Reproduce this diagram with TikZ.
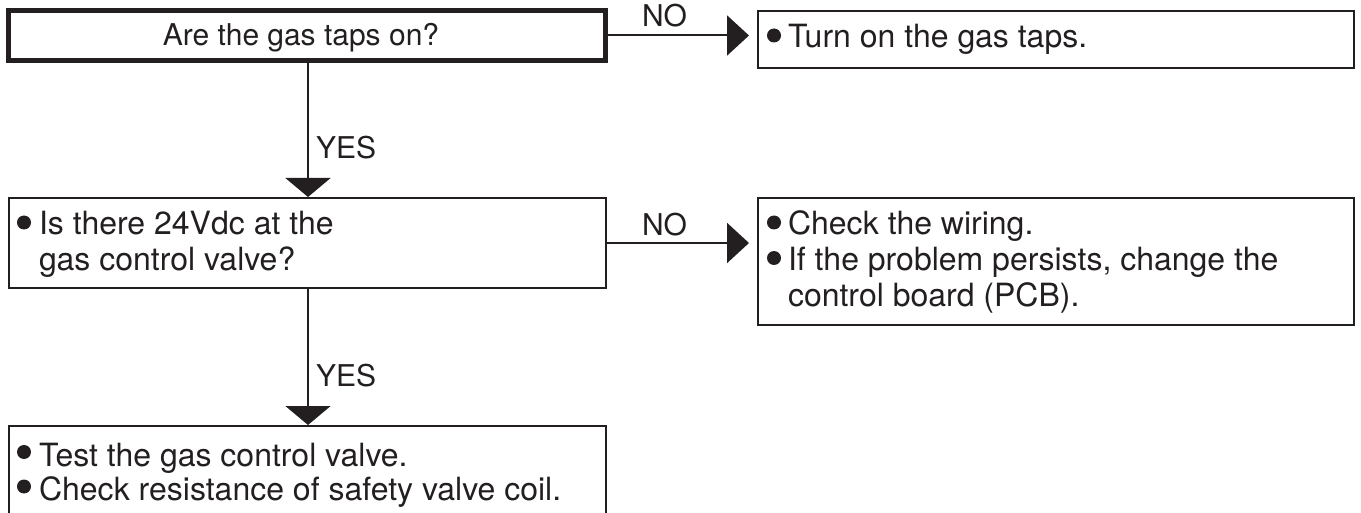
\documentclass[tikz,border=0pt]{standalone}
\usepackage{fontspec}
\setmainfont{TeX Gyre Heros}
\usetikzlibrary{arrows.meta}
\definecolor{ink}{RGB}{35,31,32}
\begin{document}
\begin{tikzpicture}[x=1pt,y=-1pt,
  every node/.style={text=ink, inner sep=0pt, outer sep=0pt},
  boxtext/.style={font=\fontsize{32}{36}\selectfont},
  lbl/.style={font=\fontsize{30}{34}\selectfont, anchor=base west},
  box/.style={draw=ink, line width=2.5pt, rectangle, inner sep=0pt, outer sep=0pt},
  conn/.style={draw=ink, line width=2pt},
  harr/.style={-{Triangle[length=22pt,width=40pt]}},
  varr/.style={-{Triangle[length=19pt,width=45pt]}},
  blt/.style={fill=ink}]
\useasboundingbox (0,0) rectangle (1361,513);
\clip (0,0) rectangle (1361,513);
% boxes
\node[box, line width=5pt, minimum width=597pt, minimum height=50pt] (q1) at (307,35.5) {};
\node[box, minimum width=596pt, minimum height=57pt] (a1) at (1056,39.5) {};
\node[box, minimum width=597pt, minimum height=90pt] (q2) at (307.5,243) {};
\node[box, minimum width=596pt, minimum height=127pt] (a2) at (1056,261.5) {};
\node[box, minimum width=597pt, minimum height=120pt] (a3) at (307.5,486) {};
% texts
\node[font=\fontsize{30}{34}\selectfont, anchor=base] (t1) at (301,46) {Are the gas taps on?};
\node[boxtext, anchor=base west] (t2) at (788,48) {Turn on the gas taps.};
\node[boxtext, anchor=base west] (t3) at (39,235) {Is there 24Vdc at the};
\node[boxtext, anchor=base west] (t4) at (39,271) {gas control valve?};
\node[boxtext, anchor=base west] (t5) at (788,235) {Check the wiring.};
\node[boxtext, anchor=base west] (t6) at (788,270.5) {If the problem persists, change the};
\node[boxtext, anchor=base west] (t7) at (788,306) {control board (PCB).};
\node[boxtext, anchor=base west] (t8) at (39,466) {Test the gas control valve.};
\node[boxtext, anchor=base west] (t9) at (39,500) {Check resistance of safety valve coil.};
% bullets
\fill[blt] (774,35.5) circle[radius=7pt];
\fill[blt] (24,222.5) circle[radius=7pt];
\fill[blt] (774,222.5) circle[radius=7pt];
\fill[blt] (774,258) circle[radius=7pt];
\fill[blt] (24,452) circle[radius=7pt];
\fill[blt] (24,486.5) circle[radius=7pt];
% labels
\node[lbl] (n1) at (642,27) {NO};
\node[lbl] (n2) at (642,236) {NO};
\node[lbl] (y1) at (316,159) {YES};
\node[lbl] (y2) at (316,386) {YES};
% connectors
\draw[conn, harr] (q1.east) -- ([xshift=-9pt]a1.west |- q1.east);
\draw[conn, harr] (q2.east) -- ([xshift=-9pt]a2.west |- q2.east);
\draw[conn, varr] ([xshift=1pt]q1.south) -- ([xshift=1pt,yshift=1pt]q1.south |- q2.north);
\draw[conn, varr] ([xshift=0.5pt]q2.south) -- ([xshift=0.5pt,yshift=1pt]q2.south |- a3.north);
\end{tikzpicture}
\end{document}
